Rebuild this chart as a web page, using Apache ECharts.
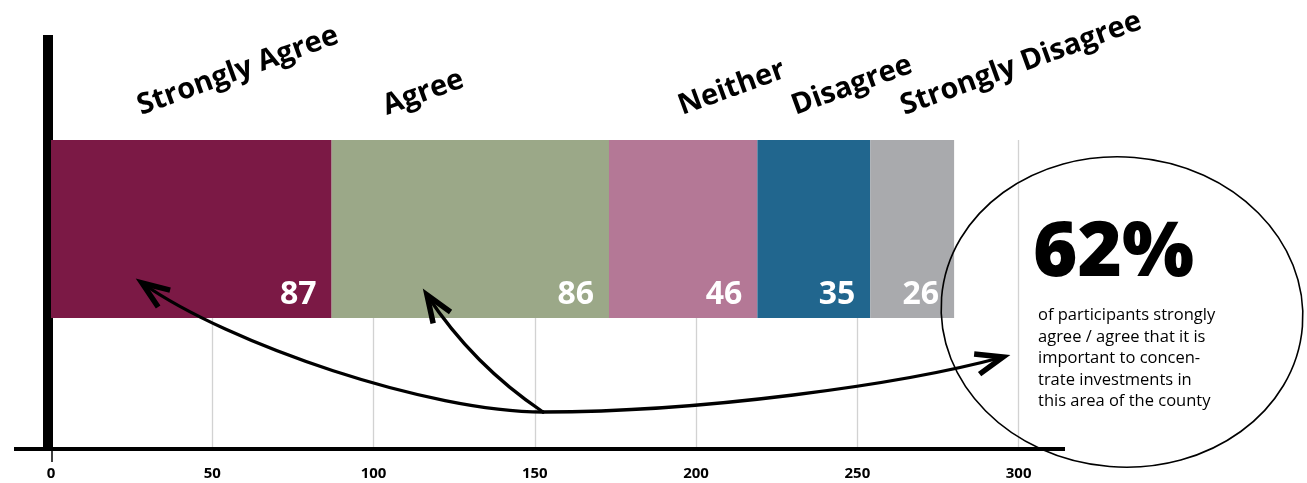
<!DOCTYPE html>
<html>
<head>
<meta charset="utf-8">
<script src="https://cdn.jsdelivr.net/npm/echarts@6/dist/echarts.min.js"></script>
<style>
  html, body { margin: 0; padding: 0; background: #ffffff; }
  #chart { width: 1307px; height: 483px; }
</style>
</head>
<body>
<div id="chart"></div>
<script>
// Survey responses, one stacked bar
const categories = ['Strongly Agree', 'Agree', 'Neither', 'Disagree', 'Strongly Disagree'];
const responses = [87, 86, 46, 35, 26];
const tickLabels = [0, 50, 100, 150, 200, 250, 300];
const calloutLines = [
  'of participants strongly',
  'agree / agree that it is',
  'important to concen-',
  'trate investments in',
  'this area of the county'
];

// Styling
const colors = ['#7b1945', '#9ba888', '#b47896', '#21668e', '#a9aaad'];
const FONT = "'Open Sans', 'Noto Sans', sans-serif";
const AXIS_MAX = 315;
const PLOT_LEFT = 51;
const PLOT_RIGHT = 240;
const BAR_TOP = 140;
const BAR_HEIGHT = 178;
// horizontal nudge of each rotated heading from its segment's start (px)
const headingNudge = [91, 56, 74, 39, 35];
const HEADING_ANGLE = 20;
const HEADING_SIZE = 29;

const chart = echarts.init(document.getElementById('chart'), null, { renderer: 'canvas' });

const option = {
  animation: false,
  backgroundColor: '#ffffff',
  grid: [
    { left: PLOT_LEFT, right: PLOT_RIGHT, top: BAR_TOP, height: BAR_HEIGHT },
    { left: PLOT_LEFT, right: PLOT_RIGHT, top: BAR_TOP, bottom: 34 },
    { left: 14, right: 242, top: 35, bottom: 34 }
  ],
  xAxis: [
    { gridIndex: 0, type: 'value', min: 0, max: AXIS_MAX, show: false },
    {
      gridIndex: 1, type: 'value', min: 0, max: AXIS_MAX, interval: 50,
      axisLine: { show: false },
      axisTick: { show: false },
      splitLine: {
        show: true, showMinLine: false, showMaxLine: false,
        lineStyle: { color: '#d2d2d2', width: 1.3 }
      },
      axisLabel: {
        margin: 17, color: '#000', fontSize: 15, fontWeight: 'bold', fontFamily: FONT,
        formatter: v => (tickLabels.includes(v) ? String(v) : '')
      }
    },
    {
      gridIndex: 2, type: 'value', min: 0, max: 1,
      axisLine: { show: true, onZero: false, lineStyle: { color: '#000', width: 4, cap: 'butt' } },
      axisTick: { show: false }, axisLabel: { show: false }, splitLine: { show: false }
    }
  ],
  yAxis: [
    { gridIndex: 0, type: 'category', data: ['Responses'], show: false },
    { gridIndex: 1, type: 'value', show: false },
    {
      gridIndex: 2, type: 'value', min: 0, max: 1, offset: -34,
      axisLine: { show: true, onZero: false, lineStyle: { color: '#000', width: 10, cap: 'butt' } },
      axisTick: { show: false }, axisLabel: { show: false }, splitLine: { show: false }
    }
  ],
  series: categories.map((name, i) => ({
    name,
    type: 'bar',
    stack: 'total',
    xAxisIndex: 0,
    yAxisIndex: 0,
    data: [responses[i]],
    barWidth: '100%',
    barCategoryGap: '0%',
    itemStyle: { color: colors[i] },
    label: {
      show: true,
      position: 'insideRight',
      distance: 15,
      offset: [0, 66],
      color: '#ffffff',
      fontSize: 32,
      fontWeight: 'bold',
      fontFamily: FONT
    }
  }))
};

chart.setOption(option);

// ---- annotations: headings, arrows, callout ----
const graphics = [];

// rotated headings above each segment
const theta = HEADING_ANGLE * Math.PI / 180;
let cum = 0;
categories.forEach((name, i) => {
  const startPx = chart.convertToPixel({ xAxisIndex: 0 }, cum);
  cum += responses[i];
  const bx = startPx + headingNudge[i];
  const by = BAR_TOP - 23;
  const d = HEADING_SIZE * 0.36;
  graphics.push({
    type: 'text',
    x: bx - Math.sin(theta) * d,
    y: by - Math.cos(theta) * d,
    rotation: theta,
    z: 50,
    style: {
      text: name,
      fill: '#000',
      font: `bold ${HEADING_SIZE}px ${FONT}`,
      align: 'left',
      verticalAlign: 'middle'
    }
  });
});

// small tick under the zero line
const zeroPx = chart.convertToPixel({ xAxisIndex: 1 }, 0);
graphics.push({
  type: 'line', z: 40,
  shape: { x1: zeroPx + 1, y1: 450, x2: zeroPx + 1, y2: 462 },
  style: { stroke: '#000', lineWidth: 1.5 }
});

// curved arrows fanning out from one hub
const hub = [543, 412];
const arrows = [
  { cp1: [430, 412], cp2: [230, 345], end: [142, 283] },
  { cp1: [473, 365], cp2: null, end: [427, 295] },
  { cp1: [700, 412], cp2: [900, 385], end: [1003, 357] }
];
arrows.forEach(a => {
  const shape = { x1: hub[0], y1: hub[1], x2: a.end[0], y2: a.end[1], cpx1: a.cp1[0], cpy1: a.cp1[1] };
  if (a.cp2) { shape.cpx2 = a.cp2[0]; shape.cpy2 = a.cp2[1]; }
  graphics.push({
    type: 'bezierCurve', z: 60, shape,
    style: { stroke: '#000', lineWidth: 3.3, fill: null, lineCap: 'round' }
  });
  const prev = a.cp2 || a.cp1;
  const ang = Math.atan2(prev[1] - a.end[1], prev[0] - a.end[0]);
  const len = 29, spread = 21 * Math.PI / 180;
  const p1 = [a.end[0] + len * Math.cos(ang + spread), a.end[1] + len * Math.sin(ang + spread)];
  const p2 = [a.end[0] + len * Math.cos(ang - spread), a.end[1] + len * Math.sin(ang - spread)];
  graphics.push({
    type: 'polyline', z: 61,
    shape: { points: [p1, a.end, p2] },
    style: { stroke: '#000', lineWidth: 5.5, fill: null, lineJoin: 'miter' }
  });
});

// callout with the combined agree share
const agreeShare = Math.round((responses[0] + responses[1]) / responses.reduce((s, v) => s + v, 0) * 100);
graphics.push({
  type: 'ellipse', z: 70, x: 1122, y: 312, rotation: -0.08,
  shape: { cx: 0, cy: 0, rx: 181, ry: 155 },
  style: { stroke: '#000', lineWidth: 1.6, fill: null }
});
graphics.push({
  type: 'text', z: 71, x: 1033, y: 254,
  style: {
    text: agreeShare + '%', fill: '#000',
    font: `800 76px ${FONT}`, align: 'left', verticalAlign: 'middle'
  }
});
graphics.push({
  type: 'text', z: 71, x: 1038, y: 305,
  style: {
    text: calloutLines.join('\n'), fill: '#000',
    font: `16.5px ${FONT}`, lineHeight: 21.5, align: 'left', verticalAlign: 'top'
  }
});

chart.setOption({ graphic: { elements: graphics } });
</script>
</body>
</html>
